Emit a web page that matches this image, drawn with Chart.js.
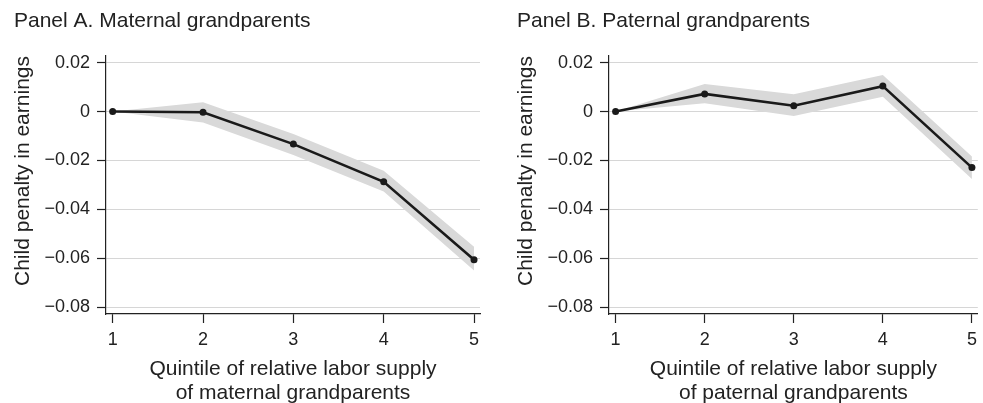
<!DOCTYPE html>
<html>
<head>
<meta charset="utf-8">
<script src="https://cdn.jsdelivr.net/npm/chart.js@4.4.1/dist/chart.umd.min.js"></script>
<style>
    body { margin: 0; background: #fff; width: 983px; height: 403px; overflow: hidden; position: relative; }
    canvas { position: absolute; top: 0; }
</style>
</head>
<body>
<canvas id="chartA" width="490" height="403" style="left:0"></canvas>
<canvas id="chartB" width="480" height="403" style="left:503px"></canvas>
<script>
const quintiles = [1, 2, 3, 4, 5];

const maternalEst   = [0, -0.0003, -0.0133, -0.0287, -0.0605];
const maternalUpper = [0,  0.0038, -0.0092, -0.0242, -0.0552];
const maternalLower = [0, -0.0045, -0.0177, -0.0327, -0.0649];

const paternalEst   = [0, 0.0072,  0.0024, 0.0104, -0.0229];
const paternalUpper = [0, 0.0113,  0.0071, 0.0149, -0.0184];
const paternalLower = [0, 0.0034, -0.0018, 0.0061, -0.0275];

const yTicks = [0.02, 0, -0.02, -0.04, -0.06, -0.08];
const yTickLabels = ['0.02', '0', '\u22120.02', '\u22120.04', '\u22120.06', '\u22120.08'];

const FONT = '"Liberation Sans", Arial, Helvetica, sans-serif';
const INK = '#222';

// panel title + y axis title drawn at fixed spots
const panelText = {
    id: 'panelText',
    afterDraw(chart, args, opts) {
        const ctx = chart.ctx;
        ctx.save();
        ctx.fillStyle = INK;
        ctx.font = '21px ' + FONT;
        ctx.textBaseline = 'alphabetic';
        ctx.textAlign = 'left';
        ctx.fillText(opts.title, 14, 27);
        ctx.translate(23, 171);
        ctx.rotate(-Math.PI / 2);
        ctx.textAlign = 'center';
        ctx.textBaseline = 'middle';
        ctx.fillText(opts.yTitle, 0, 0);
        ctx.restore();
    }
};

function toPoints(vals) {
    return quintiles.map((q, i) => ({ x: q, y: vals[i] }));
}

function makeChart(id, title, xTitle, est, upper, lower, padRight) {
    new Chart(document.getElementById(id), {
        type: 'line',
        data: {
            datasets: [
                {
                    data: toPoints(est),
                    borderColor: '#1a1a1a',
                    backgroundColor: '#1a1a1a',
                    borderWidth: 2.6,
                    pointRadius: 3.5,
                    pointBorderWidth: 0,
                    fill: false,
                    clip: false
                },
                {
                    data: toPoints(upper),
                    borderWidth: 0,
                    pointRadius: 0,
                    backgroundColor: '#d9d9d9',
                    fill: '+1'
                },
                {
                    data: toPoints(lower),
                    borderWidth: 0,
                    pointRadius: 0,
                    fill: false
                }
            ]
        },
        options: {
            responsive: false,
            animation: false,
            layout: { padding: { top: 56, right: padRight, bottom: 0, left: 0 } },
            plugins: {
                legend: { display: false },
                tooltip: { enabled: false },
                panelText: { title: title, yTitle: 'Child penalty in earnings' }
            },
            scales: {
                x: {
                    type: 'linear',
                    min: 0.926,
                    max: 5.066,
                    afterBuildTicks: s => { s.ticks = quintiles.map(v => ({ value: v })); },
                    afterFit: s => { s.height = 89; },
                    border: { color: INK, width: 1.2 },
                    grid: { drawOnChartArea: false, tickLength: 9, tickColor: INK, tickWidth: 1.2 },
                    ticks: { color: INK, font: { family: FONT, size: 18 }, padding: 6 },
                    title: {
                        display: true,
                        text: xTitle,
                        color: INK,
                        font: { family: FONT, size: 21, lineHeight: 1.15 },
                        padding: { top: 0, bottom: -2 }
                    }
                },
                y: {
                    min: -0.0827,
                    max: 0.0227,
                    afterBuildTicks: s => { s.ticks = yTicks.map(v => ({ value: v })); },
                    afterFit: s => { s.width = 106; },
                    border: { color: INK, width: 1.2 },
                    grid: { color: '#d6d6d6', lineWidth: 1, tickLength: 9, tickColor: INK, tickWidth: 1.2 },
                    ticks: {
                        color: INK,
                        font: { family: FONT, size: 18 },
                        padding: 7,
                        callback: (v, i) => yTickLabels[i]
                    }
                }
            }
        },
        plugins: [panelText]
    });
}

makeChart('chartA', 'Panel A. Maternal grandparents',
    ['Quintile of relative labor supply', 'of maternal grandparents'],
    maternalEst, maternalUpper, maternalLower, 10);

makeChart('chartB', 'Panel B. Paternal grandparents',
    ['Quintile of relative labor supply', 'of paternal grandparents'],
    paternalEst, paternalUpper, paternalLower, 0);
</script>
</body>
</html>
